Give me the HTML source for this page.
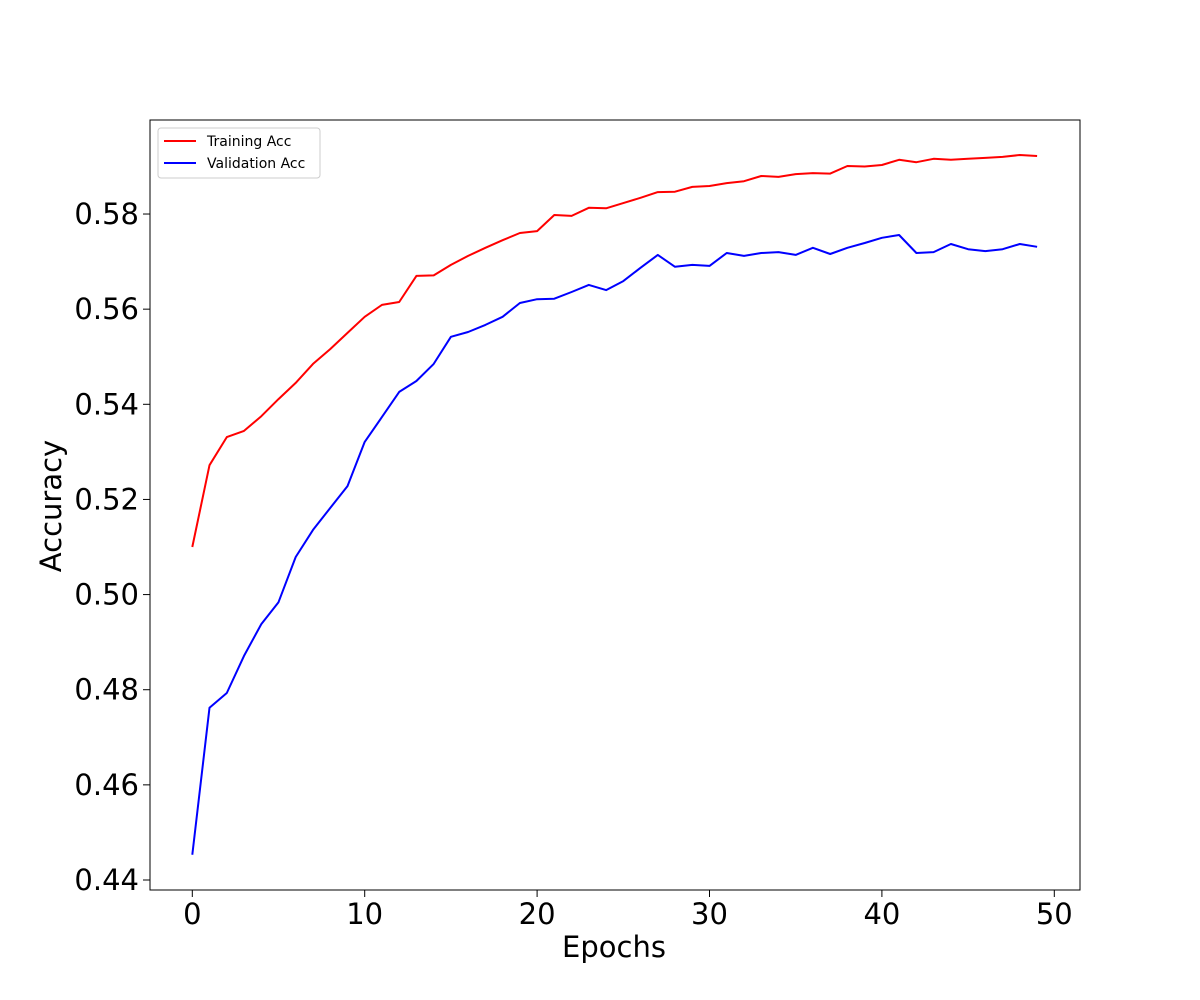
<!DOCTYPE html>
<html><head><meta charset="utf-8"><style>
html,body{margin:0;padding:0;background:#fff;}
svg{display:block;font-family:"DejaVu Sans","Liberation Sans",sans-serif;}
</style></head><body>
<svg id="chart" width="1200" height="1000" viewBox="0 0 1200 1000">
<rect x="0" y="0" width="1200" height="1000" fill="#fff"/>
<g id="ticks"></g>
<g id="lines"></g>
<rect x="150" y="120" width="930" height="770" fill="none" stroke="#000" stroke-width="1"/>
<text x="614" y="957" font-size="29" text-anchor="middle">Epochs</text>
<text x="0" y="0" font-size="29" text-anchor="middle" transform="translate(61,506) rotate(-90)">Accuracy</text>
<g>
<rect x="158" y="128" width="162" height="50" rx="3" fill="#fff" stroke="#ccc"/>
<line x1="164" y1="141" x2="196" y2="141" stroke="#ff0000" stroke-width="2"/>
<text x="207" y="146" font-size="14">Training Acc</text>
<line x1="164" y1="163" x2="196" y2="163" stroke="#0000ff" stroke-width="2"/>
<text x="207" y="168" font-size="14">Validation Acc</text>
</g>
</svg>
<script>
const trainAcc = [0.5100,0.5272,0.5331,0.5344,0.5375,0.5411,0.5445,0.5485,0.5516,0.5550,0.5584,0.5609,0.5615,0.5670,0.5671,0.5693,0.5712,0.5729,0.5745,0.5760,0.5764,0.5798,0.5796,0.5813,0.5812,0.5823,0.5834,0.5846,0.5847,0.5857,0.5859,0.5865,0.5869,0.5880,0.5878,0.5884,0.5886,0.5885,0.5901,0.5900,0.5903,0.5914,0.5909,0.5916,0.5914,0.5916,0.5918,0.5920,0.5924,0.5922];
const valAcc = [0.4453,0.4762,0.4793,0.4871,0.4938,0.4984,0.5079,0.5136,0.5182,0.5228,0.5321,0.5373,0.5426,0.5449,0.5485,0.5542,0.5552,0.5567,0.5584,0.5613,0.5621,0.5622,0.5636,0.5651,0.5640,0.5659,0.5687,0.5714,0.5689,0.5693,0.5691,0.5718,0.5712,0.5718,0.5720,0.5714,0.5729,0.5716,0.5729,0.5739,0.5750,0.5756,0.5718,0.5720,0.5737,0.5726,0.5722,0.5726,0.5737,0.5731];
const xTicks = [0,10,20,30,40,50];
const yTicks = [0.44,0.46,0.48,0.50,0.52,0.54,0.56,0.58];
const yTickLabels = ["0.44","0.46","0.48","0.50","0.52","0.54","0.56","0.58"];

const NS = "http://www.w3.org/2000/svg";
function xs(e){ return 192.3 + e*17.24; }
function ys(v){ return 880 - (v-0.44)/0.02*95.14; }
const tg = document.getElementById('ticks');
function mk(tag, attrs, parent){ const el=document.createElementNS(NS,tag); for(const k in attrs) el.setAttribute(k,attrs[k]); parent.appendChild(el); return el; }
xTicks.forEach(t=>{
  const l = mk('line',{x1:xs(t),x2:xs(t),y1:890,y2:897,stroke:'#000'},tg);
  
  
  const tx = mk('text',{x:xs(t),y:924,'font-size':29,'text-anchor':'middle'},tg);
  tx.textContent = String(t);
  
  
});
yTicks.forEach((t,i)=>{
  const l = mk('line',{x1:143,x2:150,y1:ys(t),y2:ys(t),stroke:'#000'},tg);
  
  
  const tx = mk('text',{x:139,y:ys(t)+10,'font-size':29,'text-anchor':'end'},tg);
  tx.textContent = yTickLabels[i];
  
  
});
const lg = document.getElementById('lines');
function path(arr,color,name){
  const d = arr.map((v,i)=>(i?'L':'M')+xs(i).toFixed(1)+','+ys(v).toFixed(1)).join(' ');
  const p = mk('path',{d:d,fill:'none',stroke:color,'stroke-width':2,'stroke-linejoin':'round'},lg);
  
  
}
path(trainAcc,'#ff0000','training-acc-line');
path(valAcc,'#0000ff','validation-acc-line');
</script>
</body></html>
